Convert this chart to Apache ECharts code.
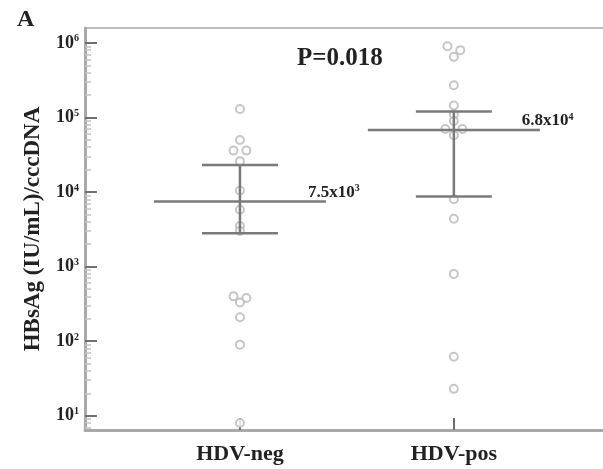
<!DOCTYPE html>
<html>
<head>
<meta charset="utf-8">
<script src="https://cdn.jsdelivr.net/npm/echarts@6/dist/echarts.min.js"></script>
<style>
  html, body { margin: 0; padding: 0; background: #fff; }
  #chart { width: 603px; height: 469px; }
</style>
</head>
<body>
<div id="chart"></div>
<script>
// Groups on the x axis
const categories = ['HDV-neg', 'HDV-pos'];

// Individual measurements: [group position, HBsAg/cccDNA ratio]
const hdvNeg = [
  [1.00, 130000], [1.00, 50000], [0.97, 36000], [1.03, 36000], [1.00, 26000],
  [1.00, 10500], [1.00, 5800], [1.00, 3500], [1.00, 3000],
  [0.97, 400], [1.03, 380], [1.00, 330], [1.00, 210], [1.00, 90], [1.00, 8]
];
const hdvPos = [
  [1.97, 900000], [2.03, 800000], [2.00, 650000], [2.00, 270000], [2.00, 145000],
  [2.00, 110000], [2.00, 90000], [1.96, 70000], [2.04, 70000], [2.00, 58000],
  [2.00, 8000], [2.00, 4400], [2.00, 800], [2.00, 62], [2.00, 23]
];

// Summary statistics per group
const groupX = [1, 2];
const means = [7500, 68000];
const upper = [23000, 120000];
const lower = [2800, 8700];

// Decade ticks (exponents) on the y axis
const decades = [1, 2, 3, 4, 5, 6];
const pValueText = 'P=0.018';

const SERIF = '"Liberation Serif", "Times New Roman", serif';
const lg = Math.log10;

const minorTicks = [];
decades.forEach(function (d) {
  for (let k = 2; k <= 9; k++) minorTicks.push(d - 1 + lg(k));
});

function supLabel(v) {
  const e = Math.floor(lg(v) + 1e-9);
  const m = v / Math.pow(10, e);
  return '{a|' + m.toFixed(1) + 'x10}{s|' + e + '}';
}

const chart = echarts.init(document.getElementById('chart'), null, { renderer: 'canvas' });

const axisGray = '#a9a9a9';

chart.setOption({
  animation: false,
  grid: {
    left: 85, top: 28, right: -22, bottom: 39,
    outerBoundsMode: 'none',
    show: true, borderColor: '#bdbdbd', borderWidth: 2, backgroundColor: 'transparent'
  },
  xAxis: {
    type: 'value', min: 0.2757, max: 2.8,
    splitLine: { show: false },
    axisLine: { show: true, onZero: false, lineStyle: { color: axisGray, width: 3 } },
    axisTick: { show: true, inside: true, length: 12, customValues: groupX,
                lineStyle: { color: '#6e6e6e', width: 2 } },
    axisLabel: {
      customValues: groupX, margin: 13,
      formatter: function (v) { return categories[Math.round(v) - 1]; },
      fontFamily: SERIF, fontWeight: 'bold', fontSize: 22, color: '#222'
    }
  },
  yAxis: [{
    type: 'value', min: 0.81, max: 6.2,
    name: 'HBsAg (IU/mL)/cccDNA', nameLocation: 'middle', nameGap: 40,
    nameTextStyle: { fontFamily: SERIF, fontWeight: 'bold', fontSize: 23, color: '#222' },
    splitLine: { show: false },
    axisLine: { show: true, lineStyle: { color: axisGray, width: 3 } },
    axisTick: { show: true, inside: true, length: 12, customValues: decades,
                lineStyle: { color: '#707070', width: 2 } },
    axisLabel: {
      customValues: decades, margin: 6,
      formatter: function (v) { return '{b|10}{s|' + v + '}'; },
      rich: {
        b: { fontFamily: SERIF, fontWeight: 'bold', fontSize: 18, color: '#222' },
        s: { fontFamily: SERIF, fontWeight: 'bold', fontSize: 10, color: '#222', verticalAlign: 'top', padding: [0, 0, 8, 0] }
      }
    }
  }, {
    type: 'value', min: 0.81, max: 6.2, position: 'left',
    splitLine: { show: false },
    axisLine: { show: false },
    axisLabel: { show: false },
    axisTick: { show: true, inside: true, length: 6, customValues: minorTicks,
                lineStyle: { color: '#c4c4c4', width: 1.5 } }
  }],
  graphic: [
    { type: 'text', left: 17, top: 8,
      style: { text: 'A', font: 'bold 24px ' + SERIF, fill: '#222' } },
    { type: 'text', left: 297, top: 46,
      style: { text: pValueText, font: 'bold 25px ' + SERIF, fill: '#222' } }
  ],
  series: [
    {
      type: 'scatter', yAxisIndex: 0,
      data: hdvNeg.map(function (p) { return [p[0], lg(p[1])]; }),
      symbol: 'circle', symbolSize: 8,
      itemStyle: { color: '#ffffff', borderColor: '#b8b8b8', borderWidth: 2 },
      z: 3
    },
    {
      type: 'scatter', yAxisIndex: 0,
      data: hdvPos.map(function (p) { return [p[0], lg(p[1])]; }),
      symbol: 'circle', symbolSize: 8,
      itemStyle: { color: '#ffffff', borderColor: '#b8b8b8', borderWidth: 2 },
      z: 3
    },
    {
      type: 'custom', yAxisIndex: 0, z: 4,
      data: groupX.map(function (x, i) { return [x, lg(means[i]), lg(lower[i]), lg(upper[i]), means[i]]; }),
      renderItem: function (params, api) {
        const c = api.coord([api.value(0), api.value(1)]);
        const lo = api.coord([api.value(0), api.value(2)]);
        const hi = api.coord([api.value(0), api.value(3)]);
        const cap = 38, half = 86;
        const stroke = { stroke: '#7a7a7a', lineWidth: 2.5 };
        return {
          type: 'group',
          children: [
            { type: 'line', shape: { x1: c[0], y1: hi[1], x2: c[0], y2: lo[1] }, style: stroke },
            { type: 'line', shape: { x1: c[0] - cap, y1: hi[1], x2: c[0] + cap, y2: hi[1] }, style: stroke },
            { type: 'line', shape: { x1: c[0] - cap, y1: lo[1], x2: c[0] + cap, y2: lo[1] }, style: stroke },
            { type: 'line', shape: { x1: c[0] - half, y1: c[1], x2: c[0] + half, y2: c[1] }, style: stroke },
            { type: 'text', x: c[0] + half - 18, y: c[1] - 9,
              style: {
                text: supLabel(api.value(4)), verticalAlign: 'middle',
                rich: {
                  a: { fontFamily: SERIF, fontWeight: 'bold', fontSize: 17, fill: '#222' },
                  s: { fontFamily: SERIF, fontWeight: 'bold', fontSize: 10, fill: '#222', verticalAlign: 'top', padding: [0, 0, 7, 0] }
                }
              } }
          ]
        };
      }
    }
  ]
});
</script>
</body>
</html>
